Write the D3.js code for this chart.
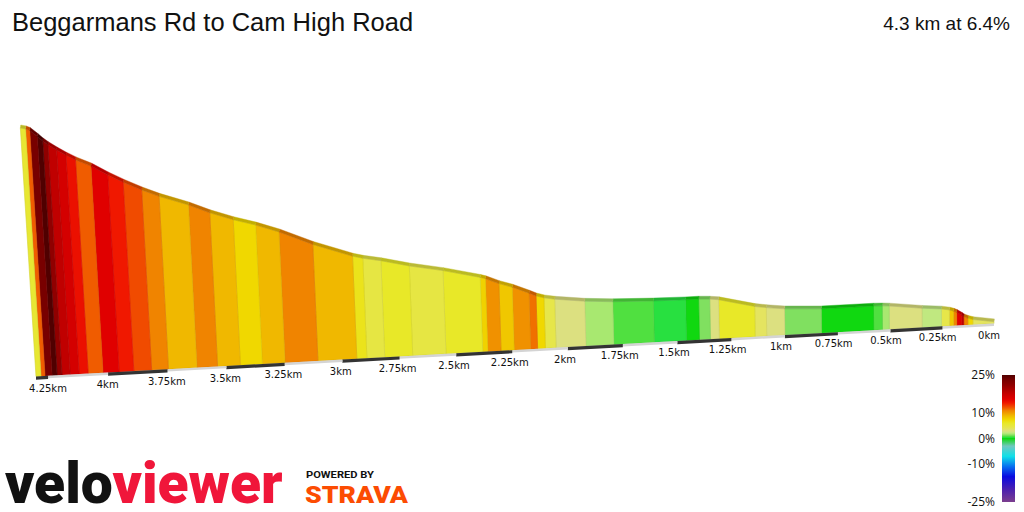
<!DOCTYPE html>
<html>
<head>
<meta charset="utf-8">
<script src="https://cdn.jsdelivr.net/npm/d3@7"></script>
<style>
  body { margin: 0; background: #fff; }
  svg { display: block; }
</style>
</head>
<body>
<script>
// segment boundaries (km from start) and the grade of each segment (%)
var segKm = [0, 0.103, 0.127, 0.147, 0.157, 0.181, 0.196, 0.216, 0.255, 0.348, 0.505,
  0.538, 0.580, 0.827, 1.0, 1.085, 1.139, 1.306, 1.347, 1.398, 1.458,
  1.606, 1.791, 1.918, 2.053, 2.101, 2.136, 2.167, 2.241, 2.300, 2.359,
  2.382, 2.545, 2.692, 2.815, 2.893, 2.937, 3.106, 3.248, 3.346, 3.440,
  3.5375, 3.625, 3.746, 3.817, 3.892, 3.954, 4.021, 4.083, 4.121, 4.158,
  4.192, 4.2125, 4.233, 4.2625, 4.279, 4.3];
var segGrade = [3.8, 7.5, 11, 18, 15.5, 11, 8.3, 4.5, 2.2, 3,
  1.8, 0.8, 0, 1.3, 3, 3.8, 6, 3, 1.3, 0,
  0.4, 0.8, 1.8, 3, 4.5, 7.5, 11.5, 10.5, 8.3, 10.5,
  7.8, 6, 4.8, 6, 4.8, 6.5, 9, 11, 9, 7.5,
  9, 11, 9, 11, 12.5, 14, 15.5, 12, 14.5, 16.5,
  18, 21, 25, 23, 12, 5.5];

// distance axis
var tickKm = [4.25, 4, 3.75, 3.5, 3.25, 3, 2.75, 2.5, 2.25, 2, 1.75, 1.5, 1.25, 1, 0.75, 0.5, 0.25, 0];
var tickLabels = ['4.25km', '4km', '3.75km', '3.5km', '3.25km', '3km', '2.75km', '2.5km', '2.25km',
  '2km', '1.75km', '1.5km', '1.25km', '1km', '0.75km', '0.5km', '0.25km', '0km'];
var barKm = [0, 0.25, 0.5, 0.75, 1, 1.25, 1.5, 1.75, 2, 2.25, 2.5, 2.75, 3, 3.25, 3.5, 3.75, 4, 4.25, 4.3];

// gradient colour key
var colorGrades = [-25, -20, -15, -11, -7, -3, 0, 0.4, 0.8, 1.3, 1.8, 2.2, 3, 3.8, 4.5, 6, 7.5, 9, 11, 12, 14, 15.5, 16.5, 18, 21, 23, 25];
var colorHex = ['#7c3e8e', '#4a20b0', '#0a0ae0', '#0870f0', '#10e0e8', '#70c8c0', '#10d810', '#28e040', '#50e040', '#80e060',
  '#a8e870', '#c0e880', '#dce080', '#e4e460', '#e6e64a', '#e8e828', '#f0d800', '#f0b800', '#f08400', '#f05c00',
  '#f01800', '#e00000', '#d40000', '#c00000', '#900000', '#780000', '#500000'];
var legendTicks = [25, 10, 0, -10, -25];

var title = 'Beggarmans Rd to Cam High Road';
var summary = '4.3 km at 6.4%';

var W = 1024, H = 512;
var svg = d3.select('body').append('svg').attr('width', W).attr('height', H);

var color = d3.scaleLinear().domain(colorGrades).range(colorHex).clamp(true);

// elevation from the grades
var elev = [0];
for (var i = 0; i < segGrade.length; i++) {
  elev.push(elev[i] + segGrade[i] * (segKm[i + 1] - segKm[i]) * 10);
}

// perspective profile: u runs along the road, h is height in px at the near end
var A = 1.085;
var uScale = d3.scaleLinear().domain([4.3, 0]).range([0, 1]);
var hScale = d3.scaleLinear().domain([0, d3.max(elev)]).range([2, 248.5]);
var baseX = d3.scaleLinear().domain([0, 1]).range([36, 994]);
var baseY = d3.scaleLinear().domain([0, 1]).range([376.5, 323.5]);

function proj(km, h) {
  var u = uScale(km);
  var w = 1 + u * (A - 1);
  var t = A * u / w;
  var s = 1 / w;
  var tilt = 0.063 * (1 - t);
  return [baseX(t) - tilt * s * h, baseY(t) - s * h];
}
function tOf(km) {
  var u = uScale(km);
  return A * u / (1 + u * (A - 1));
}

var segs = segGrade.map(function (g, i) {
  return { k0: segKm[i], k1: segKm[i + 1], e0: elev[i], e1: elev[i + 1], grade: g };
});

var prof = svg.append('g');

// front faces
prof.selectAll('path.face')
  .data(segs)
  .enter().append('path')
  .attr('class', 'face')
  .attr('d', function (d) {
    var p = [proj(d.k0, 0), proj(d.k0, hScale(d.e0)), proj(d.k1, hScale(d.e1)), proj(d.k1, 0)];
    return 'M' + p.join('L') + 'Z';
  })
  .attr('fill', function (d) { return color(d.grade); })
  .attr('stroke', function (d) { return d3.color(color(d.grade)).darker(0.25); })
  .attr('stroke-width', 0.6);

// top surface of the ribbon
var depth = 3;
prof.selectAll('path.top')
  .data(segs)
  .enter().append('path')
  .attr('class', 'top')
  .attr('d', function (d) {
    var a = proj(d.k0, hScale(d.e0)), b = proj(d.k1, hScale(d.e1));
    var s0 = 1 / (1 + uScale(d.k0) * (A - 1)), s1 = 1 / (1 + uScale(d.k1) * (A - 1));
    var p = [a, b, [b[0] + 0.4, b[1] - depth * s1], [a[0] + 0.4, a[1] - depth * s0]];
    return 'M' + p.join('L') + 'Z';
  })
  .attr('fill', function (d) { return d3.color(color(d.grade)).darker(0.6); })
  .attr('stroke', function (d) { return d3.color(color(d.grade)).darker(0.6); })
  .attr('stroke-width', 0.4);

// base strip with alternating quarter-km bars
var bars = d3.range(barKm.length - 1).map(function (j) {
  return { k0: barKm[j], k1: barKm[j + 1], dark: j % 2 === 1 };
});
svg.append('g').selectAll('path')
  .data(bars)
  .enter().append('path')
  .attr('d', function (d) {
    var a = proj(d.k0, 0), b = proj(d.k1, 0);
    var th = d.dark ? 3.2 : 2.4;
    return 'M' + a + 'L' + b + 'L' + [b[0], b[1] + th] + 'L' + [a[0], a[1] + th] + 'Z';
  })
  .attr('fill', function (d) { return d.dark ? '#333333' : '#d4d4d4'; });

// distance labels
svg.append('g').selectAll('text')
  .data(tickKm)
  .enter().append('text')
  .attr('x', function (d) { return proj(d, 0)[0] - 5 * tOf(d); })
  .attr('y', function (d) { return proj(d, 0)[1] + 16 - tOf(d); })
  .attr('text-anchor', 'middle')
  .style('font-family', 'DejaVu Sans, sans-serif')
  .style('font-size', '10px')
  .attr('fill', '#111')
  .text(function (d, i) { return tickLabels[i]; });

// titles
svg.append('text')
  .attr('x', 12).attr('y', 31)
  .style('font-family', 'Liberation Sans, Arial, sans-serif')
  .style('font-size', '25.5px')
  .attr('fill', '#111')
  .text(title);
svg.append('text')
  .attr('x', 1010).attr('y', 30)
  .attr('text-anchor', 'end')
  .style('font-family', 'Liberation Sans, Arial, sans-serif')
  .style('font-size', '19px')
  .attr('fill', '#111')
  .text(summary);

// gradient legend
var ly = d3.scaleLinear().domain([-25, 25]).range([502, 375]);
var grad = svg.append('defs').append('linearGradient')
  .attr('id', 'gradeKey')
  .attr('x1', 0).attr('y1', 0).attr('x2', 0).attr('y2', 1);
grad.selectAll('stop')
  .data(colorGrades.slice().reverse())
  .enter().append('stop')
  .attr('offset', function (g) { return (25 - g) / 50; })
  .attr('stop-color', function (g) { return color(g); });
svg.append('rect')
  .attr('x', 1002).attr('y', ly(25))
  .attr('width', 13).attr('height', ly(-25) - ly(25))
  .attr('fill', 'url(#gradeKey)');
svg.append('g').selectAll('text')
  .data(legendTicks)
  .enter().append('text')
  .attr('x', 995)
  .attr('y', function (d) { return ly(d) + 4; })
  .attr('text-anchor', 'end')
  .style('font-family', 'Open Sans, sans-serif')
  .style('font-size', '12px')
  .attr('fill', '#111')
  .text(function (d) { return d + '%'; });

// logos
var logo = svg.append('text')
  .attr('x', 5).attr('y', 503)
  .style('font-family', 'Roboto, sans-serif').style('font-weight', 900)
  .style('font-size', '57px');
logo.append('tspan').attr('fill', '#111').text('velo');
logo.append('tspan').attr('fill', '#f0163a').text('viewer');
svg.append('text')
  .attr('x', 306).attr('y', 478)
  .attr('textLength', 68).attr('lengthAdjust', 'spacingAndGlyphs')
  .style('font-family', 'Roboto, sans-serif').style('font-weight', 700)
  .style('font-size', '9.5px')
  .attr('fill', '#111')
  .text('POWERED BY');
svg.append('text')
  .attr('x', 305).attr('y', 503)
  .attr('textLength', 103).attr('lengthAdjust', 'spacingAndGlyphs')
  .style('font-family', 'Roboto, sans-serif').style('font-weight', 900)
  .style('font-size', '23px')
  .attr('fill', '#fc4c02')
  .text('STRAVA');
</script>
</body>
</html>
